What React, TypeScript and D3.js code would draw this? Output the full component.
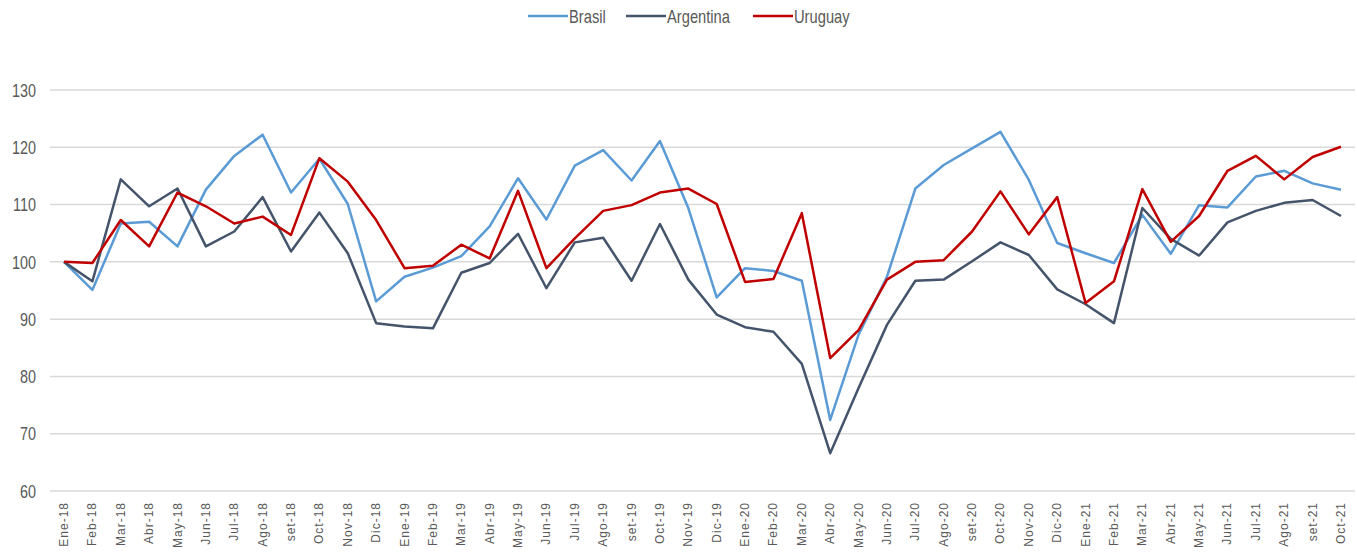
import React, { useEffect, useRef } from "react";
import * as d3 from "d3";

const months = [
  "Ene-18", "Feb-18", "Mar-18", "Abr-18", "May-18", "Jun-18", "Jul-18", "Ago-18", "set-18", "Oct-18", "Nov-18", "Dic-18",
  "Ene-19", "Feb-19", "Mar-19", "Abr-19", "May-19", "Jun-19", "Jul-19", "Ago-19", "set-19", "Oct-19", "Nov-19", "Dic-19",
  "Ene-20", "Feb-20", "Mar-20", "Abr-20", "May-20", "Jun-20", "Jul-20", "Ago-20", "set-20", "Oct-20", "Nov-20", "Dic-20",
  "Ene-21", "Feb-21", "Mar-21", "Abr-21", "May-21", "Jun-21", "Jul-21", "Ago-21", "set-21", "Oct-21",
];

const brasil = [
  100, 95.1, 106.7, 107.0, 102.7, 112.6, 118.5, 122.2, 112.1, 118.0, 110.1, 93.1,
  97.4, 99.0, 101.0, 106.2, 114.6, 107.4, 116.8, 119.5, 114.2, 121.1, 109.4, 93.8,
  98.9, 98.4, 96.7, 72.4, 87.3, 97.4, 112.8, 116.9, 119.8, 122.7, 114.3, 103.3,
  101.5, 99.8, 108.2, 101.4, 109.9, 109.5, 114.9, 115.9, 113.7, 112.6,
];

const argentina = [
  100, 96.6, 114.4, 109.7, 112.8, 102.7, 105.3, 111.3, 101.8, 108.6, 101.5, 89.3,
  88.7, 88.4, 98.1, 99.8, 104.9, 95.4, 103.4, 104.2, 96.7, 106.6, 96.9, 90.8,
  88.6, 87.8, 82.2, 66.6, 78.0, 89.0, 96.7, 96.9, 100.1, 103.4, 101.2, 95.2,
  92.6, 89.3, 109.4, 104.0, 101.1, 106.9, 108.9, 110.3, 110.8, 108.0,
];

const uruguay = [
  100, 99.8, 107.3, 102.7, 112.1, 109.7, 106.7, 107.9, 104.7, 118.1, 114.0, 107.3,
  98.9, 99.3, 103.0, 100.6, 112.4, 98.9, 104.1, 108.9, 109.9, 112.1, 112.8, 110.1,
  96.5, 97.0, 108.5, 83.2, 88.1, 96.9, 100.0, 100.3, 105.3, 112.3, 104.8, 111.3,
  92.8, 96.6, 112.7, 103.5, 108.0, 115.9, 118.5, 114.4, 118.3, 120.1,
];

const yTicks = [60, 70, 80, 90, 100, 110, 120, 130];

const series = [
  { name: "Brasil", values: brasil, color: "#5b9bd5" },
  { name: "Argentina", values: argentina, color: "#44546a" },
  { name: "Uruguay", values: uruguay, color: "#c00000" },
];

export default function App() {
  const svgRef = useRef<SVGSVGElement>(null);

  useEffect(() => {
    const width = 1357;
    const height = 556;
    const font = "'Liberation Sans Narrow', 'Liberation Sans', sans-serif";

    const x = d3.scalePoint<string>().domain(months).range([64, 1341]);
    const y = d3.scaleLinear().domain([60, 130]).range([491, 90]);

    const svg = d3.select(svgRef.current).attr("width", width).attr("height", height);
    svg.selectAll("*").remove();

    svg.append("rect").attr("width", width).attr("height", height).attr("fill", "#ffffff");

    // gridlines
    svg
      .append("g")
      .selectAll("line")
      .data(yTicks)
      .join("line")
      .attr("x1", 50)
      .attr("x2", 1355)
      .attr("y1", (d) => y(d))
      .attr("y2", (d) => y(d))
      .attr("stroke", "#d9d9d9")
      .attr("stroke-width", 1.5);

    // y labels (tall, narrow text like the source)
    svg
      .append("g")
      .selectAll("text")
      .data(yTicks)
      .join("text")
      .attr("transform", (d) => `translate(36,${y(d)}) scale(0.9,1.2)`)
      .attr("dy", "0.35em")
      .attr("text-anchor", "end")
      .attr("font-family", font)
      .attr("font-size", 16)
      .attr("fill", "#595959")
      .text((d) => d);

    // x labels
    svg
      .append("g")
      .selectAll("text")
      .data(months)
      .join("text")
      .attr("transform", (d) => `translate(${x(d)! + 4},502) rotate(-90)`)
      .attr("text-anchor", "end")
      .attr("font-family", "'Liberation Sans', sans-serif")
      .attr("font-size", 12)
      .attr("letter-spacing", 1)
      .attr("fill", "#595959")
      .text((d) => d);

    const line = d3
      .line<number>()
      .x((d, i) => x(months[i])!)
      .y((d) => y(d));

    svg
      .append("g")
      .selectAll("path")
      .data(series)
      .join("path")
      .attr("d", (s) => line(s.values))
      .attr("fill", "none")
      .attr("stroke", (s) => s.color)
      .attr("stroke-width", 2.5)
      .attr("stroke-linejoin", "round");

    // legend
    const legendX = [528, 626, 753];
    const lg = svg
      .append("g")
      .selectAll("g")
      .data(series)
      .join("g")
      .attr("transform", (s, i) => `translate(${legendX[i]},16)`);
    lg.append("line")
      .attr("x1", 0)
      .attr("x2", 40)
      .attr("stroke", (s) => s.color)
      .attr("stroke-width", 2.5);
    lg.append("text")
      .attr("transform", "translate(41,0) scale(0.92,1.2)")
      .attr("dy", "0.35em")
      .attr("font-family", font)
      .attr("font-size", 16)
      .attr("fill", "#595959")
      .text((s) => s.name);
  }, []);

  return (
    <div style={{ position: "absolute", left: 0, top: 0 }}>
      <svg ref={svgRef}></svg>
    </div>
  );
}
